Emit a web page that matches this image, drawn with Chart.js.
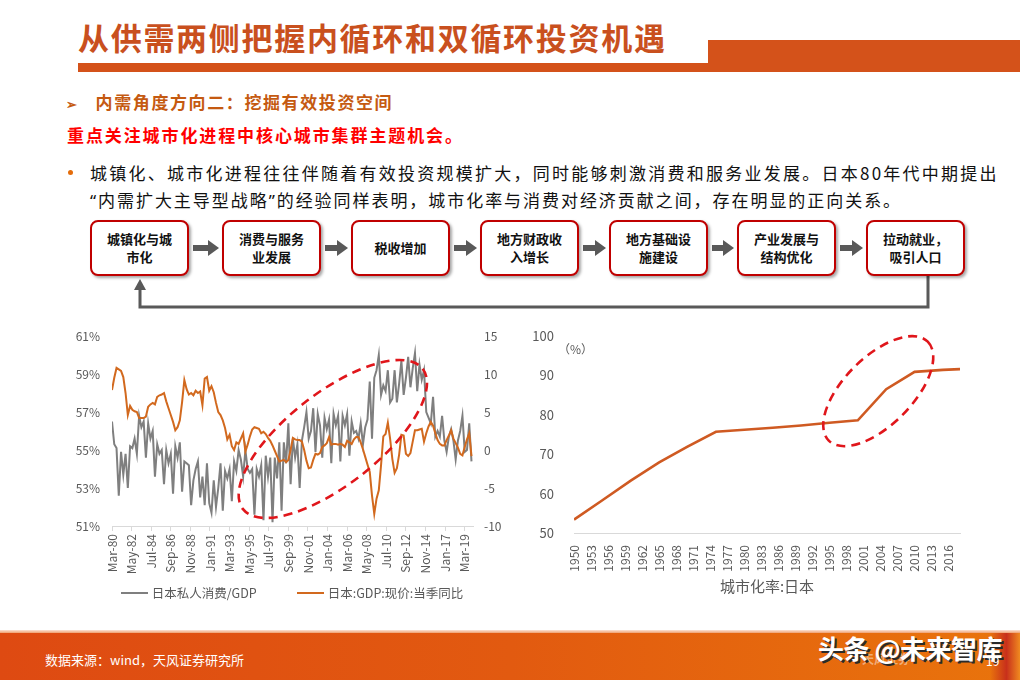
<!DOCTYPE html>
<html lang="zh-CN">
<head>
<meta charset="utf-8">
<title>从供需两侧把握内循环和双循环投资机遇</title>
<script src="https://cdn.jsdelivr.net/npm/chart.js@4.4.1/dist/chart.umd.min.js"></script>
<style>
  body { margin: 0; width: 1020px; height: 680px; overflow: hidden; background: #fff; position: relative;
         font-family: "Noto Sans CJK SC", "Noto Sans", sans-serif; }
  .abs { position: absolute; }
  #title { left: 78px; top: 15px; font-size: 31px; font-weight: bold; color: #c9501e; letter-spacing: 1.7px; line-height: 44px; white-space: nowrap; }
  #titleBar { left: 78px; top: 63px; width: 632px; height: 9px; background: #d4521a; }
  #titleBlock { left: 708px; top: 40px; width: 312px; height: 32px; background: #d4521a; }
  #sub { left: 66px; top: 90px; font-size: 17px; font-weight: bold; color: #c55a11; letter-spacing: 1.6px; white-space: nowrap; line-height: 24px; }
  #sub .arrow { font-size: 13px; margin-right: 17px; color: #c55a11; }
  #focus { left: 67px; top: 123px; font-size: 17px; font-weight: bold; color: #ff0000; letter-spacing: 1.9px; white-space: nowrap; line-height: 24px; }
  #para { left: 90px; top: 159px; font-size: 17px; color: #111; letter-spacing: 2.25px; line-height: 27px; white-space: nowrap; }
  #para .line2 { letter-spacing: 1.95px; }
  #para .q { font-family: "Noto Sans", sans-serif; }
  #bullet { left: 68px; top: 170px; width: 5px; height: 5px; border-radius: 50%; background: #e46c0a; }
  .box { position: absolute; top: 220px; height: 52px; border: 2px solid #c00000; border-radius: 8px; background: #fff;
         box-shadow: 2px 2px 3px rgba(0,0,0,0.35); display: flex; align-items: center; justify-content: center;
         text-align: center; font-size: 13px; font-weight: bold; line-height: 18px; color: #111; }
  #leftWrap { left: 60px; top: 317px; width: 460px; height: 270px; }
  #rightWrap { left: 520px; top: 310px; width: 480px; height: 285px; }
  #leftLegend { left: 62px; top: 583px; width: 460px; display: flex; justify-content: center; gap: 40px; font-size: 12.5px; color: #595959; }
  #leftLegend span.item { display: flex; align-items: center; }
  #leftLegend span.swatch { display: inline-block; width: 27px; height: 2px; margin-right: 4px; }
  #footerLine { left: 0; top: 630px; width: 1020px; height: 3px; background: linear-gradient(to bottom, #fbe3d6, #f0a070); }
  #footer { left: 0; top: 633px; width: 1020px; height: 47px; background: linear-gradient(to right, #de4a12, #e25a10 50%, #e9740c); }
  #footerEdge { left: 990px; top: 633px; width: 30px; height: 47px; background: linear-gradient(to right, rgba(200,48,27,0), #c8301b 55%, #f08a20); }
  #source { left: 45px; top: 650px; font-size: 13px; color: #fff; }
  #logo { left: 862px; top: 650px; font-size: 12px; color: rgba(255,255,255,0.45); font-weight: bold; }
  #mark { left: 818px; top: 629px; font-size: 26px; font-weight: bold; color: #fff; text-shadow: 2px 2px 0 #2a2a2a; white-space: nowrap; letter-spacing: -0.5px; }
  #page { left: 986px; top: 652px; font-size: 12px; color: #fff; }
</style>
</head>
<body>
<div id="title" class="abs">从供需两侧把握内循环和双循环投资机遇</div>
<div id="titleBar" class="abs"></div>
<div id="titleBlock" class="abs"></div>

<div id="sub" class="abs"><span class="arrow">➢</span>内需角度方向二：挖掘有效投资空间</div>
<div id="focus" class="abs">重点关注城市化进程中核心城市集群主题机会。</div>
<div id="bullet" class="abs"></div>
<div id="para" class="abs">城镇化、城市化进程往往伴随着有效投资规模扩大，同时能够刺激消费和服务业发展。日本80年代中期提出<br><span class="line2"><span class="q">“</span>内需扩大主导型战略<span class="q">”</span>的经验同样表明，城市化率与消费对经济贡献之间，存在明显的正向关系。</span></div>

<svg class="abs" style="left:0;top:0" width="1020" height="330" id="flowSvg"></svg>
<div id="flow"></div>

<div id="leftWrap" class="abs"><canvas id="leftChart"></canvas></div>
<div id="leftLegend" class="abs"></div>
<div id="rightWrap" class="abs"><canvas id="rightChart"></canvas></div>

<div id="footerLine" class="abs"></div>
<div id="footer" class="abs"></div>
<div id="footerEdge" class="abs"></div>
<div id="source" class="abs">数据来源：wind，天风证券研究所</div>
<div id="logo" class="abs">天风证券</div>
<div id="mark" class="abs">头条 @未来智库</div>
<div id="page" class="abs">19</div>

<script>
// ---- data: left chart (quarterly, Mar-80 .. Dec-19) ----
const monthTickLabels = ['Mar-80', 'May-82', 'Jul-84', 'Sep-86', 'Nov-88', 'Jan-91', 'Mar-93', 'May-95', 'Jul-97', 'Sep-99',
                         'Nov-01', 'Jan-04', 'Mar-06', 'May-08', 'Jul-10', 'Sep-12', 'Nov-14', 'Jan-17', 'Mar-19'];

// 日本私人消费/GDP (%)
const consumeRatio = [
  56.5, 55.3, 55.1, 52.6,  54.9, 53.7, 54.8, 53.0,  55.2, 55.1, 55.6, 54.8,  56.8, 56.2, 56.5, 54.6,
  56.4, 55.6, 56.0, 53.6,  55.3, 54.8, 55.0, 53.2,  55.0, 54.3, 54.8, 52.7,  55.2, 54.6, 55.4, 52.8,
  54.4, 54.3, 54.2, 52.1,  53.4, 54.0, 54.4, 52.5,  53.6, 52.1, 54.3, 52.2,  51.7, 53.4, 52.0, 53.0,
  54.3, 51.8, 53.9, 53.5,  54.0, 52.3, 54.4, 53.9,  55.0, 54.5, 53.6, 55.0,  54.0, 53.8, 54.0, 51.6,
  54.0, 53.6, 54.2, 51.3,  54.7, 53.6, 54.6, 51.2,  54.6, 53.5, 55.4, 51.8,  55.4, 54.3, 56.4, 53.2,
  55.6, 54.6, 55.3, 53.0,  55.5, 56.2, 57.0, 55.6,  56.0, 57.2, 54.9, 56.9,  56.3, 54.6, 56.7, 56.1,
  56.6, 54.3, 56.9, 56.3,  56.8, 54.4, 56.8, 56.3,  56.9, 54.7, 56.5, 55.9,  56.0, 55.6, 56.4, 55.3,
  56.2, 56.6, 58.6, 55.6,  58.8, 59.2, 60.0, 57.9,  58.4, 58.1, 59.2, 57.5,  57.7, 59.2, 57.5, 58.5,
  59.7, 57.9, 58.8, 59.9,  58.3, 59.3, 60.1, 58.1,  59.5, 58.7, 59.2, 57.0,  56.7, 56.4, 57.8, 55.7,
  56.0, 55.7, 56.8, 55.5,  54.9, 55.7, 56.1, 55.5,  54.5, 55.5, 56.0, 56.8,  54.9, 55.0, 56.4, 54.4
];

// 日本:GDP:现价:当季同比 (%)
const gdpYoy = [
  7.9, 9.5, 10.8, 10.6,  10.4, 9.6, 7.5, 4.6,  5.8, 5.3, 5.1, 5.0,  4.2, 4.2, 4.2, 4.4,
  5.7, 6.0, 6.2, 6.0,  7.0, 7.2, 7.3, 7.5,  6.4, 5.5, 4.6, 3.7,  2.6, 3.0, 3.9, 6.3,
  9.2, 8.0, 7.3, 7.5,  7.2, 7.8, 7.5, 7.7,  5.9, 9.4, 9.6, 7.8,  8.4, 7.6, 6.2, 5.0,
  4.6, 3.9, 2.9, 1.4,  2.0, 0.5, 0.0, 1.0,  0.8, 1.5, 2.2, -0.2,  0.7, 1.8, 2.7, 3.0,
  2.9, 2.8, 2.2, 2.4,  2.1, 1.6, 1.2, 0.6,  -0.1, -0.8, -1.5, -1.4,  -1.3, -1.6, -1.3, 0.0,
  1.6, 1.4, 1.3, 1.3,  1.1, 0.0, -1.4, -2.4,  -2.3, -1.3, -0.5, -0.6,  -0.4, 0.4, 0.6, 0.9,
  1.7, 0.7, 0.8, 0.8,  0.7, 0.8, 0.7, 0.4,  1.2, 1.0, 0.8, 1.4,  1.7, 1.7, 1.0, 0.1,
  -0.9, -1.9, -2.9, -6.0,  -8.4, -6.4, -5.3, -2.0,  1.8, 2.1, 3.6, 1.5,  -1.2, -3.0, -2.4, -0.6,
  2.0, 1.9, -0.5, -0.8,  -0.4, 1.1, 2.6, 2.6,  2.7, 2.8, 1.1, 2.2,  3.1, 3.7, 3.2, 2.2,
  1.3, 0.8, 0.6, 0.6,  1.3, 1.9, 2.6, 1.5,  0.9, 0.3, -0.5, -0.7,  0.4, 1.4, 2.2, -0.8
];

// ---- data: right chart ----
const urbanYears = [1950, 1955, 1960, 1965, 1970, 1975, 1980, 1985, 1990, 1995, 2000, 2005, 2010, 2015, 2018];
const urbanRate  = [53.4, 58.3, 63.3, 67.9, 71.9, 75.7, 76.2, 76.7, 77.3, 78.0, 78.6, 86.5, 90.9, 91.4, 91.6];
const yearTicks = [1950, 1953, 1956, 1959, 1962, 1965, 1968, 1971, 1974, 1977, 1980, 1983, 1986,
                   1989, 1992, 1995, 1998, 2001, 2004, 2007, 2010, 2013, 2016];

// ---- flow diagram ----
const flowSteps = ['城镇化与城<br>市化', '消费与服务<br>业发展', '税收增加', '地方财政收<br>入增长',
                   '地方基础设<br>施建设', '产业发展与<br>结构优化', '拉动就业，<br>吸引人口'];
const boxLeft = [90, 222, 351, 480, 609, 737, 866];
const boxWidth = 99;

const flow = document.getElementById('flow');
flowSteps.forEach((txt, i) => {
    const d = document.createElement('div');
    d.className = 'box';
    d.style.left = boxLeft[i] + 'px';
    d.style.width = (boxWidth - 4) + 'px';
    d.innerHTML = txt;
    flow.appendChild(d);
});

const svg = document.getElementById('flowSvg');
let svgHtml = '';
for (let i = 0; i < boxLeft.length - 1; i++) {
    const r = boxLeft[i] + boxWidth + 4;
    const l = boxLeft[i + 1] - 3;
    svgHtml += `<rect x="${r}" y="245" width="${l - 9 - r}" height="6" fill="#595959"/>`;
    svgHtml += `<polygon points="${l - 11},240 ${l},248 ${l - 11},256" fill="#595959"/>`;
}
svgHtml += '<polyline points="928,276 928,307 140,307 140,289" fill="none" stroke="#595959" stroke-width="3"/>';
svgHtml += '<polygon points="134,290 140,279 146,290" fill="#595959"/>';
svg.innerHTML = svgHtml;

// ---- charts ----
Chart.defaults.font.family = '"Noto Sans CJK SC", "Noto Sans", sans-serif';
Chart.defaults.color = '#595959';
Chart.defaults.animation = false;

// dashed red ellipse, centre given in data units
const dashedEllipse = {
    id: 'dashedEllipse',
    afterDatasetsDraw(chart, args, opts) {
        if (opts.cx === undefined) return;
        const { ctx } = chart;
        const cx = chart.scales.x.getPixelForValue(opts.cx);
        const cy = chart.scales[opts.yAxis].getPixelForValue(opts.cy);
        ctx.save();
        ctx.strokeStyle = '#e0161b';
        ctx.lineWidth = 2.6;
        ctx.setLineDash([9, 6]);
        ctx.beginPath();
        ctx.ellipse(cx, cy, opts.rx, opts.ry, opts.angle * Math.PI / 180, 0, Math.PI * 2);
        ctx.stroke();
        ctx.restore();
    }
};
Chart.register(dashedEllipse);

const gray = '#7f7f7f';
const orange = '#d2691e';

const leftChart = new Chart(document.getElementById('leftChart'), {
    type: 'line',
    data: {
        datasets: [
            {
                label: '日本:GDP:现价:当季同比',
                data: gdpYoy.map((v, i) => ({ x: i * 3, y: v })),
                borderColor: orange, backgroundColor: orange,
                borderWidth: 2, pointRadius: 0, yAxisID: 'y1'
            },
            {
                label: '日本私人消费/GDP',
                data: consumeRatio.map((v, i) => ({ x: i * 3, y: v })),
                borderColor: gray, backgroundColor: gray,
                borderWidth: 2, pointRadius: 0, yAxisID: 'y'
            }
        ]
    },
    options: {
        responsive: true,
        maintainAspectRatio: false,
        layout: { padding: { top: 19, left: 0, right: 0, bottom: 0 } },
        plugins: {
            legend: { display: false },
            tooltip: { enabled: false },
            dashedEllipse: { yAxis: 'y', cx: 293, cy: 55.58, rx: 114, ry: 46, angle: -38 }
        },
        scales: {
            x: {
                type: 'linear', min: 0, max: 479,
                afterBuildTicks: axis => { axis.ticks = monthTickLabels.map((_, i) => ({ value: i * 26 })); },
                afterFit: s => { s.height = 61; },
                ticks: {
                    autoSkip: false, minRotation: 90, maxRotation: 90, padding: 3,
                    font: { size: 12 },
                    callback: (v, i) => monthTickLabels[i]
                },
                grid: { drawOnChartArea: false, drawTicks: true, tickLength: 5, color: '#d9d9d9' },
                border: { color: '#d9d9d9' }
            },
            y: {
                position: 'left', min: 51, max: 61,
                afterFit: s => { s.width = 52; },
                ticks: { stepSize: 2, padding: 4, font: { size: 12 }, callback: v => v + '%' },
                grid: { display: false },
                border: { display: false }
            },
            y1: {
                position: 'right', min: -10, max: 15,
                afterFit: s => { s.width = 47; },
                ticks: { stepSize: 5, padding: 3, font: { size: 12 } },
                grid: { display: false },
                border: { display: false }
            }
        }
    }
});

// html legend, gray series first as in the source chart
const legendBox = document.getElementById('leftLegend');
leftChart.data.datasets.slice().reverse().forEach(ds => {
    legendBox.innerHTML += `<span class="item"><span class="swatch" style="background:${ds.borderColor}"></span>${ds.label}</span>`;
});

const percentNote = {
    id: 'percentNote',
    afterDraw(chart) {
        const { ctx, chartArea } = chart;
        ctx.save();
        ctx.fillStyle = '#595959';
        ctx.font = '12px "Noto Sans CJK SC", sans-serif';
        ctx.textBaseline = 'middle';
        ctx.fillText('（%）', chartArea.left - 16, chartArea.top + 13);
        ctx.restore();
    }
};

new Chart(document.getElementById('rightChart'), {
    type: 'line',
    data: {
        datasets: [{
            label: '城市化率:日本',
            data: urbanYears.map((y, i) => ({ x: y, y: urbanRate[i] })),
            borderColor: '#cf5a22', backgroundColor: '#cf5a22',
            borderWidth: 2.6, pointRadius: 0
        }]
    },
    options: {
        responsive: true,
        maintainAspectRatio: false,
        layout: { padding: { top: 26, right: 40, left: 0, bottom: 0 } },
        plugins: {
            legend: { display: false },
            tooltip: { enabled: false },
            dashedEllipse: { yAxis: 'y', cx: 2003.6, cy: 86.0, rx: 70, ry: 34, angle: -45 }
        },
        scales: {
            x: {
                type: 'linear', min: 1950, max: 2018,
                afterBuildTicks: axis => { axis.ticks = yearTicks.map(v => ({ value: v })); },
                afterFit: s => { s.height = 62; },
                ticks: {
                    autoSkip: false, minRotation: 90, maxRotation: 90, padding: 4,
                    font: { size: 12 },
                    callback: v => String(v)
                },
                grid: { display: false },
                border: { display: true, color: '#d9d9d9' },
                title: { display: true, text: '城市化率:日本', font: { size: 15 }, color: '#595959', padding: { top: 0, bottom: 0 } }
            },
            y: {
                min: 50, max: 100,
                afterFit: s => { s.width = 54; },
                ticks: { stepSize: 10, padding: 12, font: { size: 13 } },
                grid: { display: false },
                border: { display: false }
            }
        }
    },
    plugins: [percentNote]
});
</script>
</body>
</html>
